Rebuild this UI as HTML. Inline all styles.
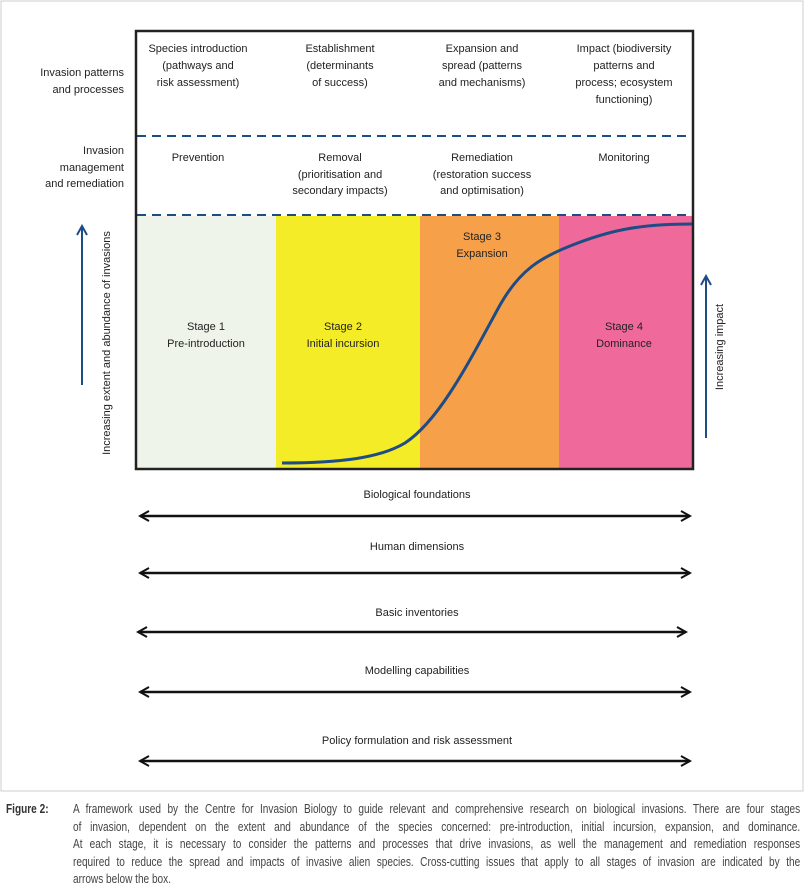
<!DOCTYPE html>
<html><head><meta charset="utf-8"><style>
html,body{margin:0;padding:0;background:#fff;width:805px;height:893px;overflow:hidden}
svg text{font-family:"Liberation Sans Narrow","Liberation Sans",sans-serif;font-size:11px;fill:#222}
.cap{position:absolute;left:0;top:801px;width:805px;font-family:"Liberation Sans Narrow","Liberation Sans",sans-serif;font-size:12.6px;color:#444;line-height:17.6px}
.cap b{position:absolute;left:6px;top:0;font-weight:bold;color:#333;transform:scaleX(0.8);transform-origin:0 0}
.cap div{position:absolute;left:73px;width:909px;text-align:justify;text-align-last:justify;white-space:nowrap;transform:scaleX(0.8);transform-origin:0 0}
</style></head><body>
<svg width="805" height="893" style="position:absolute;left:0;top:0">
<defs><marker id="ah" markerWidth="12" markerHeight="12" refX="10" refY="6" orient="auto-start-reverse" markerUnits="userSpaceOnUse"><path d="M1,1 L10,6 L1,11" fill="none" stroke="#111" stroke-width="2"/></marker>
<marker id="bh" markerWidth="12" markerHeight="12" refX="10" refY="6" orient="auto" markerUnits="userSpaceOnUse"><path d="M1,1 L10,6 L1,11" fill="none" stroke="#1e4c85" stroke-width="2"/></marker></defs>
<rect x="1" y="1" width="802" height="790" fill="none" stroke="#ccc"/>
<rect x="136" y="216" width="140" height="253" fill="#eef4ea"/>
<rect x="276" y="216" width="144" height="253" fill="#f4ec27"/>
<rect x="420" y="216" width="139" height="253" fill="#f7a04a"/>
<rect x="559" y="216" width="134" height="253" fill="#ef6a9a"/>
<path d="M282,463 C340,463 380,458 405,443 C440,420 470,360 500,305 C520,270 540,258 570,246 C610,230 640,224 692,224" fill="none" stroke="#1e4c85" stroke-width="3"/>
<line x1="137" y1="136" x2="693" y2="136" stroke="#1e4c85" stroke-width="2" stroke-dasharray="9,6"/>
<line x1="137" y1="215" x2="693" y2="215" stroke="#1e4c85" stroke-width="2" stroke-dasharray="9,6"/>
<rect x="136" y="31" width="557" height="438" fill="none" stroke="#222" stroke-width="2.5"/>
<g text-anchor="end"><text x="124" y="76">Invasion patterns</text><text x="124" y="93">and processes</text>
<text x="124" y="154">Invasion</text><text x="124" y="171">management</text><text x="124" y="187">and remediation</text></g>
<g text-anchor="middle">
<text x="198" y="52">Species introduction</text><text x="198" y="69">(pathways and</text><text x="198" y="86">risk assessment)</text>
<text x="340" y="52">Establishment</text><text x="340" y="69">(determinants</text><text x="340" y="86">of success)</text>
<text x="482" y="52">Expansion and</text><text x="482" y="69">spread (patterns</text><text x="482" y="86">and mechanisms)</text>
<text x="624" y="52">Impact (biodiversity</text><text x="624" y="69">patterns and</text><text x="624" y="86">process; ecosystem</text><text x="624" y="103">functioning)</text>
<text x="198" y="161">Prevention</text>
<text x="340" y="161">Removal</text><text x="340" y="178">(prioritisation and</text><text x="340" y="194">secondary impacts)</text>
<text x="482" y="161">Remediation</text><text x="482" y="178">(restoration success</text><text x="482" y="194">and optimisation)</text>
<text x="624" y="161">Monitoring</text>
<text x="206" y="330">Stage 1</text><text x="206" y="347">Pre-introduction</text>
<text x="343" y="330">Stage 2</text><text x="343" y="347">Initial incursion</text>
<text x="482" y="240">Stage 3</text><text x="482" y="257">Expansion</text>
<text x="624" y="330">Stage 4</text><text x="624" y="347">Dominance</text>
<text x="417" y="498">Biological foundations</text>
<text x="417" y="550">Human dimensions</text>
<text x="417" y="616">Basic inventories</text>
<text x="417" y="674">Modelling capabilities</text>
<text x="417" y="744">Policy formulation and risk assessment</text>
</g>
<line x1="82" y1="385" x2="82" y2="226" stroke="#1e4c85" stroke-width="2" marker-end="url(#bh)"/>
<text transform="translate(110,343) rotate(-90)" text-anchor="middle">Increasing extent and abundance of invasions</text>
<line x1="706" y1="438" x2="706" y2="276" stroke="#1e4c85" stroke-width="2" marker-end="url(#bh)"/>
<text transform="translate(723,347) rotate(-90)" text-anchor="middle">Increasing impact</text>
<g stroke="#111" stroke-width="2.5">
<line x1="140" y1="516" x2="690" y2="516" marker-end="url(#ah)" marker-start="url(#ah)"/>
<line x1="140" y1="573" x2="690" y2="573" marker-end="url(#ah)" marker-start="url(#ah)"/>
<line x1="138" y1="632" x2="686" y2="632" marker-end="url(#ah)" marker-start="url(#ah)"/>
<line x1="140" y1="692" x2="690" y2="692" marker-end="url(#ah)" marker-start="url(#ah)"/>
<line x1="140" y1="761" x2="690" y2="761" marker-end="url(#ah)" marker-start="url(#ah)"/>
</g>
</svg>
<div class="cap"><b>Figure 2:</b>
<div style="top:0">A framework used by the Centre for Invasion Biology to guide relevant and comprehensive research on biological invasions. There are four stages</div>
<div style="top:17.6px">of invasion, dependent on the extent and abundance of the species concerned: pre-introduction, initial incursion, expansion, and dominance.</div>
<div style="top:35.2px">At each stage, it is necessary to consider the patterns and processes that drive invasions, as well the management and remediation responses</div>
<div style="top:52.8px">required to reduce the spread and impacts of invasive alien species. Cross-cutting issues that apply to all stages of invasion are indicated by the</div>
<div style="top:70.4px;text-align:left;text-align-last:left">arrows below the box.</div>
</div>
</body></html>
